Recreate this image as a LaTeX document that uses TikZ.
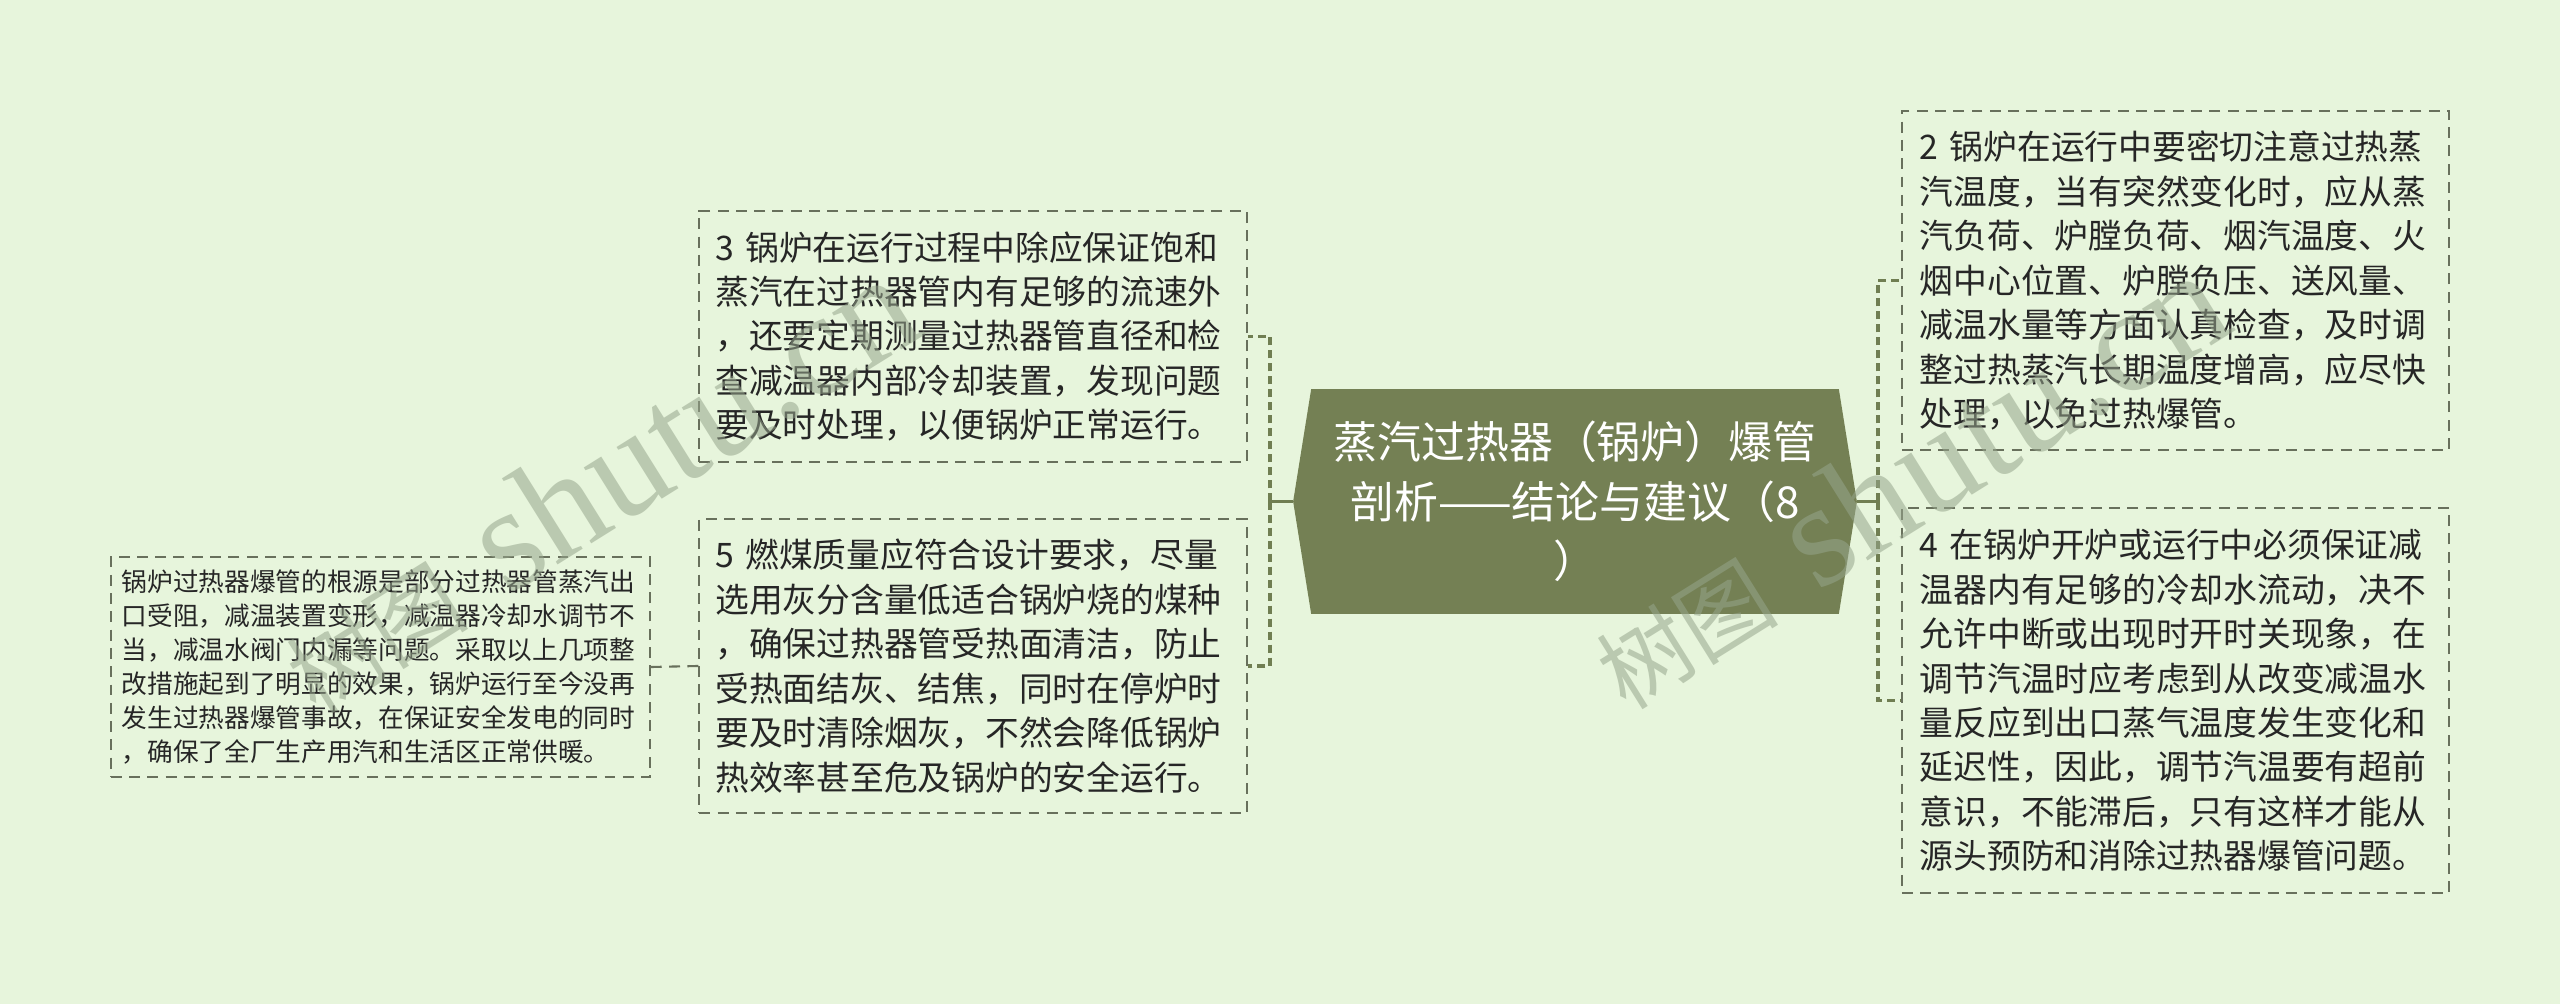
\documentclass[tikz,border=0pt]{standalone}
\usepackage{fontspec}
\setmainfont{Noto Sans CJK SC}
\newfontfamily\wmlatin{Liberation Serif}
\usetikzlibrary{backgrounds}

\definecolor{bgcol}{RGB}{231,245,220}
\definecolor{rootcol}{RGB}{116,128,84}
\definecolor{linecol}{RGB}{112,126,82}
\definecolor{boxcol}{RGB}{104,112,92}
\definecolor{textcol}{RGB}{38,38,38}
\definecolor{wmcol}{RGB}{150,165,140}

\begin{document}
\begin{tikzpicture}
        [x=0.01cm, y=-0.01cm,
        root/.style={minimum width=5.62cm, minimum height=2.23cm, text width=5.2cm, inner sep=0pt,
          align=center, text=white, font=\fontsize{12.5pt}{16.9pt}\selectfont},
        topic/.style={draw=boxcol, line width=0.6pt, dash pattern=on 3.1pt off 2.1pt, text=textcol,
          align=left, inner xsep=0.16cm, text width=5.15cm, font=\fontsize{9.6pt}{12.65pt}\selectfont},
        note/.style={topic, inner xsep=0.11cm, text width=5.17cm, font=\fontsize{7.3pt}{9.67pt}\selectfont},
        link/.style={linecol, line width=1pt},
        branch/.style={linecol, line width=1pt, dash pattern=on 2.3pt off 1.4pt},
        leaf/.style={boxcol, line width=0.6pt, dash pattern=on 3.1pt off 2.1pt},
        wmark/.style={text=wmcol, opacity=0.55, rotate=32, anchor=south west, inner sep=0pt}]

        \node[root] (root) at (1575,501.5) {蒸汽过热器（锅炉）爆管\\剖析——结论与建议（8\\）};

        % left side
        \node[topic, minimum height=2.51cm] (b3) at (973,336.5)
          {3 锅炉在运行过程中除应保证饱和\\蒸汽在过热器管内有足够的流速外\\，还要定期测量过热器管直径和检\\查减温器内部冷却装置，发现问题\\要及时处理，以便锅炉正常运行。};
        \node[topic, minimum height=2.94cm] (b5) at (973,666)
          {5 燃煤质量应符合设计要求，尽量\\选用灰分含量低适合锅炉烧的煤种\\，确保过热器管受热面清洁，防止\\受热面结灰、结焦，同时在停炉时\\要及时清除烟灰，不然会降低锅炉\\热效率甚至危及锅炉的安全运行。};
        \node[note, minimum height=2.2cm] (b1) at (380.5,667)
          {锅炉过热器爆管的根源是部分过热器管蒸汽出\\口受阻，减温装置变形，减温器冷却水调节不\\当，减温水阀门内漏等问题。采取以上几项整\\改措施起到了明显的效果，锅炉运行至今没再\\发生过热器爆管事故，在保证安全发电的同时\\，确保了全厂生产用汽和生活区正常供暖。};

        % right side
        \node[topic, inner xsep=0.18cm, text width=5.11cm, minimum height=3.39cm] (b2) at (2175.5,280.5)
          {2 锅炉在运行中要密切注意过热蒸\\汽温度，当有突然变化时，应从蒸\\汽负荷、炉膛负荷、烟汽温度、火\\烟中心位置、炉膛负压、送风量、\\减温水量等方面认真检查，及时调\\整过热蒸汽长期温度增高，应尽快\\处理，以免过热爆管。};
        \node[topic, inner xsep=0.18cm, text width=5.11cm, minimum height=3.85cm] (b4) at (2175.5,700.5)
          {4 在锅炉开炉或运行中必须保证减\\温器内有足够的冷却水流动，决不\\允许中断或出现时开时关现象，在\\调节汽温时应考虑到从改变减温水\\量反应到出口蒸气温度发生变化和\\延迟性，因此，调节汽温要有超前\\意识，不能滞后，只有这样才能从\\源头预防和消除过热器爆管问题。};

        \coordinate (lj) at (1270,501.5);
        \coordinate (rj) at (1878,501.5);

        % connectors
        \draw[link] (root.west) -- (lj);
        \draw[branch] (lj) |- (b3.east);
        \draw[branch] (lj) |- (b5.east);
        \draw[link] (root.east) -- (rj);
        \draw[branch] (rj) |- (b2.west);
        \draw[branch] (rj) |- (b4.west);
        \draw[leaf] (b5.west) -- (b1.east);

        % root shape and page
        \begin{scope}[on background layer]
          \fill[bgcol] (0,0) rectangle (2560,1004);
          \fill[rootcol] (root.west) -- ([xshift=0.18cm]root.north west) -- ([xshift=-0.18cm]root.north east)
            -- (root.east) -- ([xshift=-0.18cm]root.south east) -- ([xshift=0.18cm]root.south west) -- cycle;
        \end{scope}

        % watermarks
        \node[wmark] (wm1) at (320,723) {\fontsize{26pt}{26pt}\selectfont 树图\hspace{12pt}\wmlatin\fontsize{42pt}{42pt}\selectfont shutu.cn};
        \node[wmark] (wm2) at (1630,719) {\fontsize{26pt}{26pt}\selectfont 树图\hspace{12pt}\wmlatin\fontsize{42pt}{42pt}\selectfont shutu.cn};

\end{tikzpicture}
\end{document}
